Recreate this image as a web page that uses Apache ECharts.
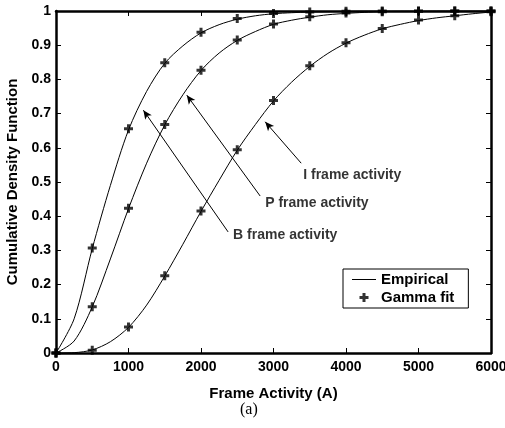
<!DOCTYPE html>
<html>
<head>
<meta charset="utf-8">
<style>
  html, body { margin: 0; padding: 0; background: #fff; }
  #chart { width: 505px; height: 428px; }
</style>
<script src="https://cdn.jsdelivr.net/npm/echarts@6/dist/echarts.min.js"></script>
</head>
<body>
<div id="chart"></div>
<script>
// empirical curves, read every 250
const empX = [0, 250, 500, 750, 1000, 1250, 1500, 1750, 2000, 2250, 2500, 2750, 3000,
  3250, 3500, 3750, 4000, 4250, 4500, 4750, 5000, 5250, 5500, 5750, 6000];
const empB = [0, 0.1, 0.305, 0.49, 0.652, 0.765, 0.847, 0.898, 0.936, 0.96, 0.976, 0.986, 0.992,
  0.995, 0.997, 0.998, 0.999, 1, 1, 1, 1, 1, 1, 1, 1];
const empP = [0, 0.035, 0.135, 0.275, 0.422, 0.555, 0.667, 0.755, 0.826, 0.877, 0.914, 0.94, 0.961,
  0.973, 0.982, 0.989, 0.993, 0.996, 0.998, 0.999, 0.999, 1, 1, 1, 1];
const empI = [0, 0.001, 0.009, 0.033, 0.075, 0.14, 0.225, 0.318, 0.414, 0.505, 0.593, 0.668, 0.737,
  0.792, 0.838, 0.876, 0.906, 0.929, 0.948, 0.961, 0.972, 0.98, 0.986, 0.992, 0.997];

// gamma fit markers, every 500
const fitX = [0, 500, 1000, 1500, 2000, 2500, 3000, 3500, 4000, 4500, 5000, 5500, 6000];
const fitB = [0, 0.307, 0.656, 0.849, 0.938, 0.978, 0.993, 0.997, 0.999, 1, 1, 1, 1];
const fitP = [0, 0.135, 0.423, 0.668, 0.827, 0.915, 0.962, 0.983, 0.994, 0.998, 0.999, 1, 1];
const fitI = [0, 0.008, 0.076, 0.226, 0.415, 0.594, 0.738, 0.84, 0.907, 0.949, 0.974, 0.986, 0.998];

// annotations: text anchor + arrow (tail -> tip), data coords
const notes = [
  { text: "I frame activity", at: [3410, 0.52], tail: [3382, 0.555], tip: [2885, 0.676] },
  { text: "P frame activity", at: [2885, 0.437], tail: [2816, 0.459], tip: [1804, 0.754] },
  { text: "B frame activity", at: [2443, 0.344], tail: [2374, 0.354], tip: [1205, 0.71] }
];

const font = "'Liberation Sans', Arial, sans-serif";
const plus = "path://M3,0 H6 V3 H9 V6 H6 V9 H3 V6 H0 V3 H3 Z";

const zip = (xs, ys) => xs.map((x, i) => [x, ys[i]]);

const chart = echarts.init(document.getElementById("chart"));

function empSeries(ys) {
  return {
    name: "Empirical",
    type: "line",
    data: zip(empX, ys),
    smooth: 0.3,
    showSymbol: false,
    symbol: "none",
    lineStyle: { color: "#000", width: 1 },
    itemStyle: { color: "#000" },
    z: 3
  };
}
function fitSeries(ys) {
  return {
    name: "Gamma fit",
    type: "scatter",
    data: zip(fitX, ys),
    symbol: plus,
    symbolSize: 9,
    clip: false,
    itemStyle: { color: "#000" },
    z: 4
  };
}

const axisCommon = {
  axisLine: { show: true, onZero: false, lineStyle: { color: "#000", width: 2.5 } },
  axisTick: { show: true, inside: true, length: 5, lineStyle: { color: "#000", width: 1 } },
  splitLine: { show: false }
};
const labelFont = { fontFamily: font, fontWeight: "bold", fontSize: 14, color: "#000" };
const titleFont = { fontFamily: font, fontWeight: "bold", fontSize: 15, color: "#000" };

chart.setOption({
  animation: false,
  grid: { left: 56, right: 14, top: 11, bottom: 75, outerBoundsMode: "none" },
  legend: {
    data: [
      { name: "Empirical", icon: "path://M0,0 H24 V1 H0 Z" },
      { name: "Gamma fit", icon: plus }
    ],
    orient: "vertical",
    left: 343,
    top: 269,
    itemWidth: 24,
    itemHeight: 9,
    itemGap: 3,
    padding: [3, 14, 3, 9],
    borderColor: "#000",
    borderWidth: 1,
    backgroundColor: "#fff",
    textStyle: { fontFamily: font, fontWeight: "bold", fontSize: 15, color: "#000" }
  },
  xAxis: [
    Object.assign({
      type: "value", min: 0, max: 6000, interval: 1000,
      name: "Frame Activity (A)", nameLocation: "middle", nameGap: 33,
      nameTextStyle: titleFont,
      axisLabel: Object.assign({ margin: 7, formatter: v => String(v) }, labelFont)
    }, axisCommon),
    Object.assign({
      type: "value", min: 0, max: 6000, interval: 1000, position: "top",
      axisLabel: { show: false }
    }, axisCommon)
  ],
  yAxis: [
    Object.assign({
      type: "value", min: 0, max: 1, interval: 0.1,
      name: "Cumulative Density Function", nameLocation: "middle", nameGap: 35,
      nameTextStyle: titleFont,
      axisLabel: Object.assign({
        margin: 5,
        formatter: v => String(parseFloat(v.toFixed(1)))
      }, labelFont)
    }, axisCommon),
    Object.assign({
      type: "value", min: 0, max: 1, interval: 0.1, position: "right",
      axisLabel: { show: false }
    }, axisCommon)
  ],
  graphic: [{
    type: "text", left: 240, top: 402,
    style: { text: "(a)", font: "16px 'Liberation Serif', 'Times New Roman', serif", fill: "#000" }
  }],
  series: [
    empSeries(empB), empSeries(empP), empSeries(empI),
    fitSeries(fitB), fitSeries(fitP), fitSeries(fitI),
    {
      name: "notes",
      type: "scatter",
      symbolSize: 0,
      silent: true,
      data: notes.map(n => ({ value: n.at, label: { formatter: n.text } })),
      label: Object.assign({ show: true, position: "right", distance: 0 }, labelFont),
      markLine: {
        silent: true,
        symbol: ["none", "arrow"],
        symbolSize: [6, 9],
        label: { show: false },
        lineStyle: { color: "#000", width: 1, type: "solid" },
        data: notes.map(n => [{ coord: n.tail }, { coord: n.tip }])
      }
    }
  ]
});
</script>
</body>
</html>
